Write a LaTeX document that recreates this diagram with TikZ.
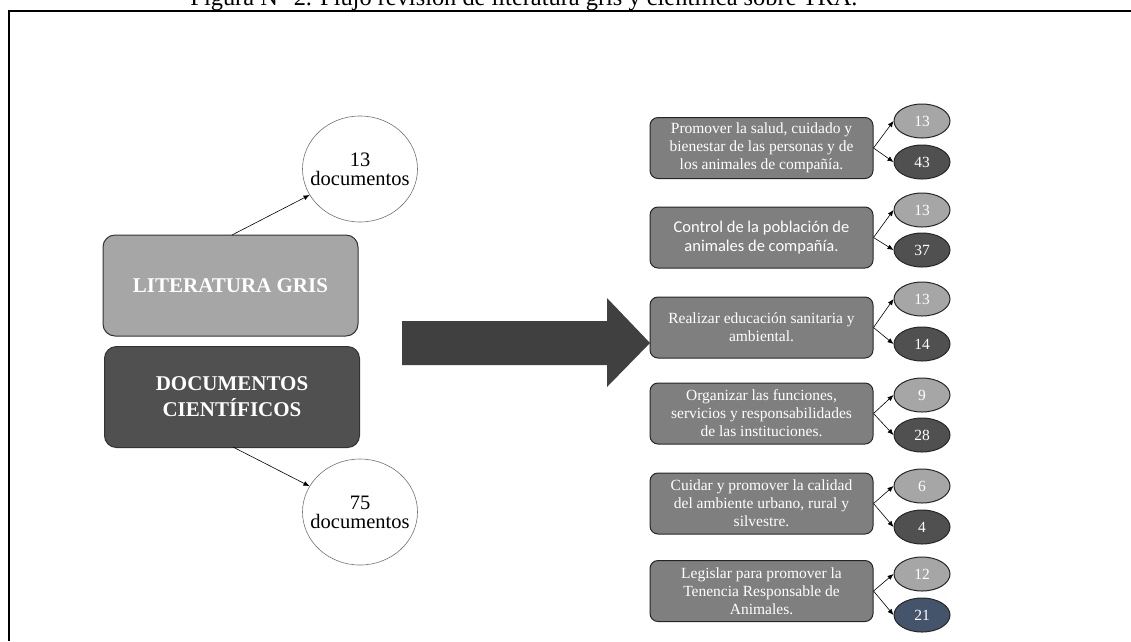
\documentclass[tikz,border=0pt]{standalone}
\usepackage{fontspec}
\setmainfont{Liberation Serif}
\newfontfamily\calibrifont{Carlito}
\usetikzlibrary{shapes.geometric}
\usetikzlibrary{arrows.meta}

\definecolor{lightgris}{HTML}{A6A6A6}
\definecolor{darkgris}{HTML}{505050}
\definecolor{midgris}{HTML}{7F7F7F}
\definecolor{arrowgris}{HTML}{404040}
\definecolor{bluegris}{HTML}{44546A}

\tikzset{
  sourcebox/.style={draw=black!80, line width=1pt, rounded corners=12pt, text=white,
    minimum width=255pt, minimum height=101pt, align=center,
    font=\rmfamily\fontsize{21}{26}\selectfont\bfseries},
  docscircle/.style={ellipse, draw=black!55, line width=0.6pt, fill=white,
    minimum width=115pt, minimum height=106pt, align=center, inner xsep=-12pt, inner ysep=0pt,
    font=\rmfamily\fontsize{20.5}{19}\selectfont},
  aimbox/.style={draw=black!85, line width=1pt, rounded corners=8pt, fill=midgris, text=white,
    minimum width=223pt, minimum height=61pt, align=center, inner sep=1pt,
    font=\rmfamily\fontsize{15.5}{18}\selectfont},
  countoval/.style={ellipse, draw=black!85, line width=1pt, text=white, inner sep=0pt,
    minimum width=56pt, minimum height=34pt, font=\rmfamily\fontsize{15.5}{18}\selectfont},
  branch/.style={draw, line width=0.6pt, -{Latex[length=6pt,width=5pt]}}
}

\begin{document}
\begin{tikzpicture}[x=1pt, y=-1pt]
  \useasboundingbox (0,0) rectangle (1131,641);

  % caption (cut at the top of the page)
  \node[anchor=base, inner sep=0pt, font=\rmfamily\fontsize{24.4}{24}\selectfont] (caption) at (524,5)
    {Figura N° 2. Flujo revisión de literatura gris y científica sobre TRA.};
  \draw[line width=2.5pt] (9,641) -- (9,11) -- (1135,11);

  % left side
  \node[sourcebox, fill=lightgris] (gris) at (230.5,285.5) {LITERATURA GRIS};
  \node[sourcebox, fill=darkgris] (cientificos) at (232,397) {DOCUMENTOS\\CIENTÍFICOS};
  \node[docscircle] (docsgris) at (360,169) {13\\documentos};
  \node[docscircle] (docscien) at (360,512) {75\\documentos};
  \draw[branch] (232,235) -- (docsgris);
  \draw[branch] (233,447) -- (docscien);

  % big arrow
  \fill[arrowgris] (402,321) -- (607,321) -- (607,298) -- (650,343)
    -- (607,387) -- (607,365) -- (402,365) -- cycle;

  % right side
  \node[aimbox] (aim1) at (761.5,148) {Promover la salud, cuidado y\\bienestar de las personas y de\\los animales de compañía.};
  \node[aimbox, font=\calibrifont\fontsize{16.5}{19.5}\selectfont] (aim2) at (761.5,237.5) {Control de la población de\\animales de compañía.};
  \node[aimbox] (aim3) at (761.5,327.5) {Realizar educación sanitaria y\\ambiental.};
  \node[aimbox] (aim4) at (761.5,413.5) {Organizar las funciones,\\servicios y responsabilidades\\de las instituciones.};
  \node[aimbox] (aim5) at (761.5,503.5) {Cuidar y promover la calidad\\del ambiente urbano, rural y\\silvestre.};
  \node[aimbox] (aim6) at (761.5,591) {Legislar para promover la\\Tenencia Responsable de\\Animales.};

  \node[countoval, fill=lightgris] (gris1) at (922,121) {13};
  \node[countoval, fill=darkgris] (cien1) at (922,162) {43};
  \node[countoval, fill=lightgris] (gris2) at (922,210) {13};
  \node[countoval, fill=darkgris] (cien2) at (922,250) {37};
  \node[countoval, fill=lightgris] (gris3) at (922,299) {13};
  \node[countoval, fill=darkgris] (cien3) at (922,344) {14};
  \node[countoval, fill=lightgris] (gris4) at (922,395) {9};
  \node[countoval, fill=darkgris] (cien4) at (922,435) {28};
  \node[countoval, fill=lightgris] (gris5) at (922,486) {6};
  \node[countoval, fill=darkgris] (cien5) at (922,527) {4};
  \node[countoval, fill=lightgris] (gris6) at (922,574) {12};
  \node[countoval, fill=bluegris] (cien6) at (922,615) {21};

  \foreach \i in {1,...,6} {
    \draw[branch] (aim\i.east) -- (gris\i.west);
    \draw[branch] (aim\i.east) -- (cien\i.west);
  }
\end{tikzpicture}
\end{document}
